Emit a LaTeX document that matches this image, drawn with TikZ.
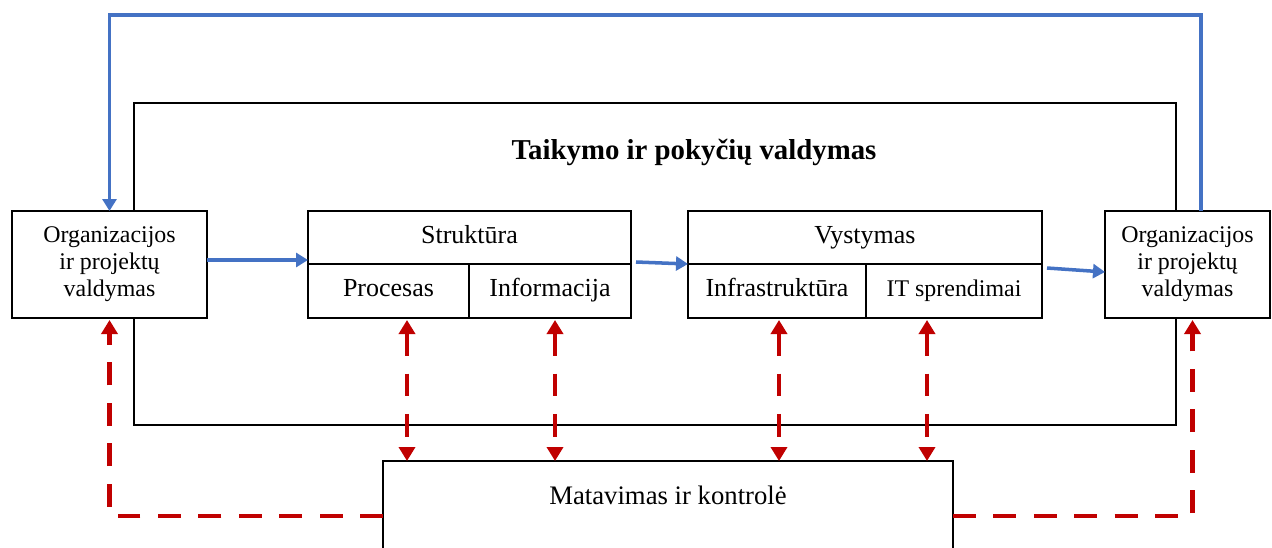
\documentclass[tikz,border=0pt]{standalone}
\usepackage{fontspec}
\setmainfont{Liberation Serif}
\usetikzlibrary{arrows.meta,positioning}
\definecolor{flowblue}{HTML}{4472C4}
\definecolor{ctrlred}{HTML}{C00000}

\begin{document}
\begin{tikzpicture}[
    every node/.style={font=\fontsize{13.6}{15.3}\selectfont},
    box/.style={draw, line width=1.1pt, fill=white, align=center, inner sep=0pt, outer sep=0pt},
    orgbox/.style={box, minimum height=2.14cm},
    part/.style={box, font=\fontsize{14.8}{16}\selectfont, text height=0.84em, text depth=0.17em},
    cell/.style={part, anchor=north west, minimum height=1.08cm},
    title/.style={font=\fontsize{16.4}{18}\selectfont\bfseries, anchor=base},
    flow/.style={draw=flowblue, line width=2pt, -{Triangle[width=0.28cm,length=0.24cm]}},
    ctrl/.style={draw=ctrlred, line width=2.6pt, dash pattern=on 13pt off 10pt,
        {Triangle[width=0.32cm,length=0.28cm]}-{Triangle[width=0.32cm,length=0.28cm]}},
    ctrlone/.style={ctrl, -{Triangle[width=0.32cm,length=0.28cm]}},
]
    \clip (0,0) rectangle (25.44,-10.94);

    % Outer frame with title
    \node[draw, line width=1.1pt, outer sep=0pt, minimum width=20.84cm, minimum height=6.44cm,
        anchor=north west] (frame) at (2.68,-2.06) {};
    \node[title] (frametitle) at (13.88,-3.18) {Taikymo ir pokyčių valdymas};

    % Side boxes
    \node[orgbox, minimum width=3.9cm] (orgL) at (2.19,-5.29) {Organizacijos\\ir projektų\\valdymas};
    \node[orgbox, minimum width=3.3cm] (orgR) at (23.75,-5.29) {Organizacijos\\ir projektų\\valdymas};

    % Split boxes
    \node[part, minimum width=6.46cm, minimum height=1.06cm] (struk) at (9.39,-4.75) {Struktūra};
    \node[cell, minimum width=3.22cm] (proc) at (struk.south west) {Procesas};
    \node[cell, minimum width=3.24cm] (info) at (proc.north east) {Informacija};

    \node[part, minimum width=7.08cm, minimum height=1.06cm] (vyst) at (17.3,-4.75) {Vystymas};
    \node[cell, minimum width=3.56cm] (infra) at (vyst.south west) {Infrastruktūra};
    \node[cell, minimum width=3.52cm, font=\fontsize{13.6}{15.3}\selectfont] (it) at (infra.north east) {IT sprendimai};

    % Measurement box
    \node[box, minimum width=11.4cm, minimum height=2.2cm, anchor=north] (meas) at (13.36,-9.22) {};
    \node[font=\fontsize{15.2}{16}\selectfont, anchor=base] (measlbl) at ([yshift=-0.86cm]meas.north) {Matavimas ir kontrolė};

    % Blue flow
    \coordinate (loop) at ([yshift=3.92cm]orgL.north);
    \draw[flow] ([xshift=0.27cm]orgR.north) |- (loop) -- (orgL.north);
    \draw[flow] ([yshift=0.09cm]orgL.east) -- ([yshift=0.09cm]orgL.east -| struk.west);
    \draw[flow] ([xshift=0.1cm,yshift=0.04cm]struk.south east) -- (vyst.south west);
    \draw[flow] ([xshift=0.1cm,yshift=-0.08cm]vyst.south east) -- ([yshift=-0.15cm]orgR.west);

    % Red control links
    \foreach \c/\dx in {proc/0.37, info/0.1, infra/0.04, it/-0.54} {
        \draw[ctrl] ([xshift=\dx cm, yshift=-0.04cm]\c.south) -- ([xshift=\dx cm]\c.south |- meas.north);
    }
    \draw[ctrlone] (meas.west) -| ([yshift=-0.04cm]orgL.south);
    \draw[ctrlone] (meas.east) -| ([xshift=0.1cm, yshift=-0.04cm]orgR.south);
\end{tikzpicture}
\end{document}
